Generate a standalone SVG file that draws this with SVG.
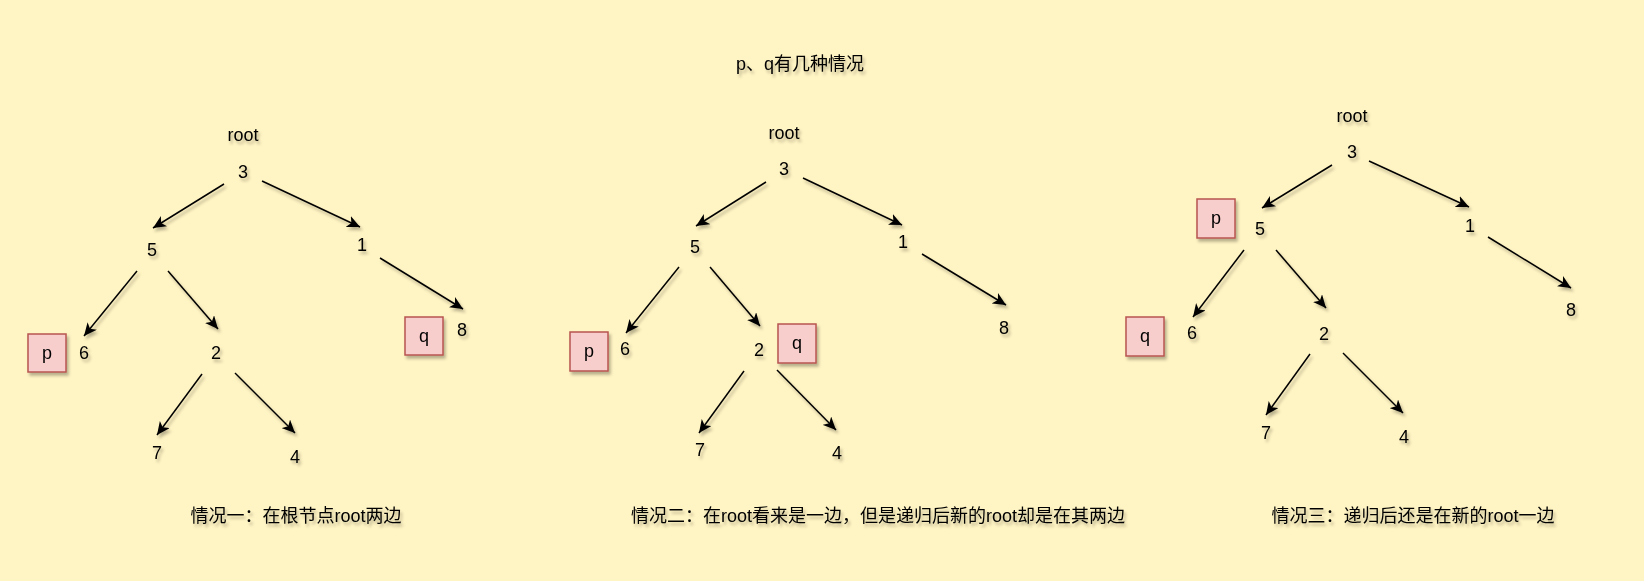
<svg xmlns="http://www.w3.org/2000/svg" width="1644" height="581" viewBox="0 0 1644 581">
<defs>
<filter id="sh" x="-30%" y="-30%" width="160%" height="160%">
<feDropShadow dx="2" dy="3" stdDeviation="1.6" flood-color="#000" flood-opacity="0.28"/>
</filter>
<marker id="ah" markerUnits="userSpaceOnUse" markerWidth="14" markerHeight="12" viewBox="0 0 14 12" refX="13" refY="6" orient="auto">
<path d="M0,0 L13,6 L0,12 L3.5,6 z" fill="#000"/>
</marker>
</defs>
<style>
text{font-family:"Liberation Sans","Noto Sans CJK SC",sans-serif;font-size:18px;fill:#000;text-anchor:middle;dominant-baseline:central}
.e{stroke:#000;stroke-width:1.5;fill:none;marker-end:url(#ah)}
.b{fill:#F8CECC;stroke:#B85450;stroke-width:1.5}
.s{filter:url(#sh)}
</style>
<rect width="1644" height="581" fill="#FFF4C3"/>

<g id="title" class="s"><text x="800" y="64">p、q有几种情况</text></g>

<g id="connectors" class="s">
<!-- tree 1 -->
<line class="e" x1="224" y1="184" x2="153" y2="228"/>
<line class="e" x1="262" y1="181" x2="360" y2="227"/>
<line class="e" x1="137" y1="271" x2="84" y2="336"/>
<line class="e" x1="168" y1="271" x2="218" y2="329"/>
<line class="e" x1="380" y1="258" x2="463" y2="309"/>
<line class="e" x1="202" y1="374" x2="157" y2="435"/>
<line class="e" x1="235" y1="373" x2="295" y2="433"/>
<!-- tree 2 -->
<line class="e" x1="766" y1="182" x2="696" y2="226"/>
<line class="e" x1="803" y1="178" x2="902" y2="225"/>
<line class="e" x1="679" y1="267" x2="626" y2="333"/>
<line class="e" x1="710" y1="267" x2="760" y2="326"/>
<line class="e" x1="922" y1="254" x2="1006" y2="305"/>
<line class="e" x1="744" y1="371" x2="699" y2="433"/>
<line class="e" x1="777" y1="370" x2="836" y2="430"/>
<!-- tree 3 -->
<line class="e" x1="1332" y1="165" x2="1262" y2="208"/>
<line class="e" x1="1369" y1="161" x2="1469" y2="207"/>
<line class="e" x1="1244" y1="250" x2="1193" y2="317"/>
<line class="e" x1="1276" y1="250" x2="1326" y2="308"/>
<line class="e" x1="1488" y1="237" x2="1571" y2="288"/>
<line class="e" x1="1310" y1="354" x2="1266" y2="415"/>
<line class="e" x1="1343" y1="353" x2="1403" y2="413"/>
</g>

<!-- tree 1 nodes -->
<g id="t1-root" class="s"><text x="243" y="135">root</text></g>
<g id="t1-n3" class="s"><text x="243" y="172">3</text></g>
<g id="t1-n5" class="s"><text x="152" y="250">5</text></g>
<g id="t1-n1" class="s"><text x="362" y="245">1</text></g>
<g id="t1-p" class="s"><rect class="b" x="28" y="334" width="38" height="38"/><text x="47" y="353">p</text></g>
<g id="t1-n6" class="s"><text x="84" y="353">6</text></g>
<g id="t1-n2" class="s"><text x="216" y="353">2</text></g>
<g id="t1-q" class="s"><rect class="b" x="405" y="317" width="38" height="38"/><text x="424" y="336">q</text></g>
<g id="t1-n8" class="s"><text x="462" y="330">8</text></g>
<g id="t1-n7" class="s"><text x="157" y="453">7</text></g>
<g id="t1-n4" class="s"><text x="295" y="457">4</text></g>
<g id="t1-caption" class="s"><text x="296" y="516">情况一：在根节点root两边</text></g>

<!-- tree 2 nodes -->
<g id="t2-root" class="s"><text x="784" y="133">root</text></g>
<g id="t2-n3" class="s"><text x="784" y="169">3</text></g>
<g id="t2-n5" class="s"><text x="695" y="247">5</text></g>
<g id="t2-n1" class="s"><text x="903" y="242">1</text></g>
<g id="t2-p" class="s"><rect class="b" x="570" y="332" width="38" height="39"/><text x="589" y="351">p</text></g>
<g id="t2-n6" class="s"><text x="625" y="349">6</text></g>
<g id="t2-n2" class="s"><text x="759" y="350">2</text></g>
<g id="t2-q" class="s"><rect class="b" x="778" y="324" width="38" height="39"/><text x="797" y="343">q</text></g>
<g id="t2-n8" class="s"><text x="1004" y="328">8</text></g>
<g id="t2-n7" class="s"><text x="700" y="450">7</text></g>
<g id="t2-n4" class="s"><text x="837" y="453">4</text></g>
<g id="t2-caption" class="s"><text x="878" y="516">情况二：在root看来是一边，但是递归后新的root却是在其两边</text></g>

<!-- tree 3 nodes -->
<g id="t3-root" class="s"><text x="1352" y="116">root</text></g>
<g id="t3-n3" class="s"><text x="1352" y="152">3</text></g>
<g id="t3-p" class="s"><rect class="b" x="1197" y="199" width="38" height="39"/><text x="1216" y="218">p</text></g>
<g id="t3-n5" class="s"><text x="1260" y="229">5</text></g>
<g id="t3-n1" class="s"><text x="1470" y="226">1</text></g>
<g id="t3-q" class="s"><rect class="b" x="1126" y="317" width="38" height="39"/><text x="1145" y="336">q</text></g>
<g id="t3-n6" class="s"><text x="1192" y="333">6</text></g>
<g id="t3-n2" class="s"><text x="1324" y="334">2</text></g>
<g id="t3-n8" class="s"><text x="1571" y="310">8</text></g>
<g id="t3-n7" class="s"><text x="1266" y="433">7</text></g>
<g id="t3-n4" class="s"><text x="1404" y="437">4</text></g>
<g id="t3-caption" class="s"><text x="1413" y="516">情况三：递归后还是在新的root一边</text></g>
</svg>
